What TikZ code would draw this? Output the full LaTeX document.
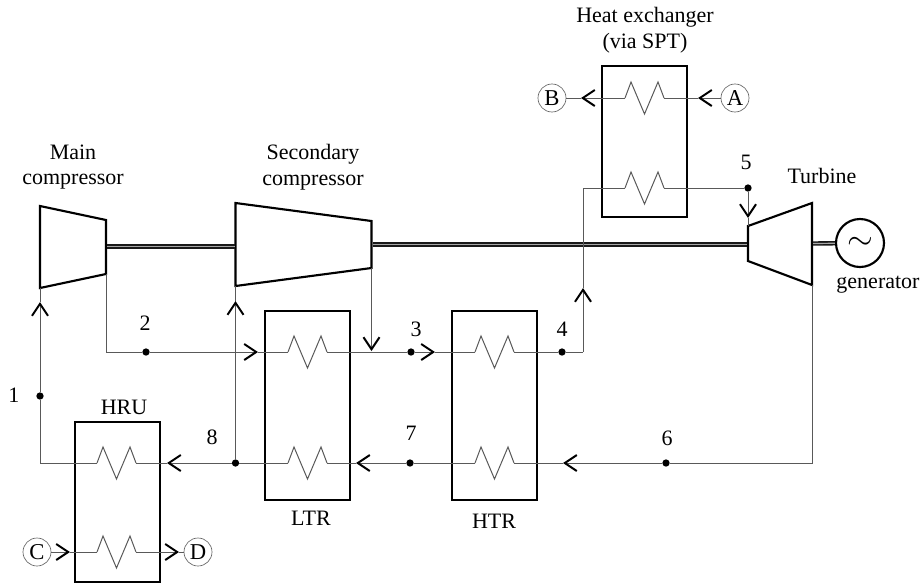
\documentclass[tikz,border=0pt]{standalone}
\usepackage{fontspec}
\setmainfont{Liberation Serif}
\usetikzlibrary{arrows.meta}

\tikzset{
    pipe/.style={line width=0.75pt, black!65},
    flow/.style={pipe, -{Straight Barb[black, line width=1.5pt, length=9pt, width=12pt]}},
    unit/.style={line width=1.6pt},
    shaft/.style={line width=1.2pt, black!90, double=black!35, double distance=0.9pt},
    junction/.style={circle, fill=black, inner sep=0pt, minimum size=5.5pt},
    port/.style={circle, draw=black!60, line width=0.5pt, inner sep=0pt, minimum size=21pt, font=\fontsize{17}{19}\selectfont},
    tag/.style={align=center, inner sep=0pt, font=\fontsize{16.5}{19.2}\selectfont},
}

\begin{document}
\begin{tikzpicture}[x=0.75pt, y=-0.75pt]
    \useasboundingbox (0,0) rectangle (921,583);

        % wymienniki -- obudowy
    \draw[unit] (602, 66) rectangle (687,217);
    \draw[unit] (265,311) rectangle (350,500);
    \draw[unit] (452,311) rectangle (537,500);
    \draw[unit] ( 75,422) rectangle (160,582);

        % wymienniki -- wezownice
    \foreach \name/\cx/\cy in {hxa/644.5/98, hxb/644.5/188, ltra/307.5/352, ltrb/307.5/463,
                               htra/494.5/352, htrb/494.5/463, hrua/116.5/463, hrub/116.5/552} {
        \coordinate (\name L) at (\cx-19.5,\cy);
        \coordinate (\name R) at (\cx+19.5,\cy);
        \draw[pipe] (\name L) -- (\cx-13.5,\cy-16) -- (\cx,\cy+16) -- (\cx+13.5,\cy-16) -- (\name R);
    }

        % maszyny
    \coordinate (mcin)  at ( 40,288);
    \coordinate (mcout) at (106,274);
    \coordinate (scin)  at (235.5,286);
    \coordinate (scout) at (371.5,268);
    \coordinate (tin)   at (748,226);
    \coordinate (tout)  at (812,285);
    \draw[unit, line join=miter] (mcin) -- (40,206) -- (106,220) -- (mcout) -- cycle;
    \draw[unit, line join=miter] (scin) -- (235.5,203) -- (371.5,221) -- (scout) -- cycle;
    \draw[unit, line join=miter] (tin) -- (812,203) -- (tout) -- (748,261) -- cycle;

    \node[circle, draw, line width=1.6pt, inner sep=0pt, minimum size=36pt, font=\Huge] (gen) at (860,243) {$\sim$};

        % walki
    \draw[shaft] (107,246.5) -- (234.5,246.5);
    \draw[shaft] (372.5,244.5) -- (747,244.5);
    \draw[shaft] (813,243.5) -- (gen);

        % punkty obiegu
    \node[junction] (p1) at ( 40,396) {};
    \node[junction] (p2) at (146,352) {};
    \node[junction] (p3) at (411,352) {};
    \node[junction] (p4) at (562,352) {};
    \node[junction] (p5) at (748,188) {};
    \node[junction] (p6) at (666,463) {};
    \node[junction] (p7) at (410,463) {};
    \node[junction] (p8) at (235.5,463) {};

    \node[port] (A) at (735, 98) {A};
    \node[port] (B) at (552, 98) {B};
    \node[port] (C) at ( 37,552) {C};
    \node[port] (D) at (198,552) {D};

        % strzalki
    \coordinate (tipmc) at ( 40,302);
    \coordinate (tipsc) at (235.5,301);
    \coordinate (tipa)  at (258,352);
    \coordinate (tipb)  at (371.5,351);
    \coordinate (tipc)  at (435,352);
    \coordinate (tipd)  at (583,288);
    \coordinate (tipe)  at (748,218);
    \coordinate (tipf)  at (563,463);
    \coordinate (tipg)  at (356,463);
    \coordinate (tiph)  at (167,463);
    \coordinate (tipA)  at (698, 98);
    \coordinate (tipB)  at (581, 98);
    \coordinate (tipC)  at ( 70,552);
    \coordinate (tipD)  at (179,552);

        % obieg
    \draw[flow] (p1) -- (tipmc);
    \draw[pipe] (tipmc) -- (mcin);
    \draw[pipe] (hruaL) -- (40,463) -- (p1);
    \draw[pipe] (mcout) -- (106,352) -- (p2);
    \draw[flow] (p2) -- (tipa);
    \draw[pipe] (tipa) -- (ltraL);
    \draw[pipe] (ltraR) -- (p3);
    \draw[flow] (scout) -- (tipb);
    \draw[flow] (p3) -- (tipc);
    \draw[pipe] (tipc) -- (htraL);
    \draw[pipe] (htraR) -- (p4) -- (583,352);
    \draw[flow] (583,352) -- (tipd);
    \draw[pipe] (tipd) -- (583,188) -- (hxbL);
    \draw[pipe] (hxbR) -- (p5);
    \draw[flow] (p5) -- (tipe);
    \draw[pipe] (tipe) -- (tin);
    \draw[pipe] (tout) -- (812,463) -- (p6);
    \draw[flow] (p6) -- (tipf);
    \draw[pipe] (tipf) -- (htrbR);
    \draw[pipe] (htrbL) -- (p7);
    \draw[flow] (p7) -- (tipg);
    \draw[pipe] (tipg) -- (ltrbR);
    \draw[pipe] (ltrbL) -- (p8);
    \draw[flow] (p8) -- (tiph);
    \draw[pipe] (tiph) -- (hruaR);
    \draw[flow] (p8) -- (tipsc);
    \draw[pipe] (tipsc) -- (scin);

        % obiegi zewnetrzne
    \draw[flow] (A) -- (tipA);
    \draw[pipe] (tipA) -- (hxaR);
    \draw[flow] (hxaL) -- (tipB);
    \draw[pipe] (tipB) -- (B);
    \draw[flow] (C) -- (tipC);
    \draw[pipe] (tipC) -- (hrubL);
    \draw[flow] (hrubR) -- (tipD);
    \draw[pipe] (tipD) -- (D);

        % opisy
    \node[tag] (lhx)  at (645, 30) {Heat exchanger\\(via SPT)};
    \node[tag] (lmc)  at ( 73,167) {Main\\compressor};
    \node[tag] (lsc)  at (313,167) {Secondary\\compressor};
    \node[tag] (ltur) at (822,176) {Turbine};
    \node[tag] (lgen) at (878,285) {generator};
    \node[tag] (lhru) at (124,407) {HRU};
    \node[tag] (lltr) at (311,518) {LTR};
    \node[tag] (lhtr) at (494,521) {HTR};
    \node[tag] (l1) at ( 14,395) {1};
    \node[tag] (l2) at (145,323) {2};
    \node[tag] (l3) at (416,329) {3};
    \node[tag] (l4) at (562,329) {4};
    \node[tag] (l5) at (746,162) {5};
    \node[tag] (l6) at (667,438) {6};
    \node[tag] (l7) at (411,433) {7};
    \node[tag] (l8) at (212,437) {8};
\end{tikzpicture}
\end{document}
